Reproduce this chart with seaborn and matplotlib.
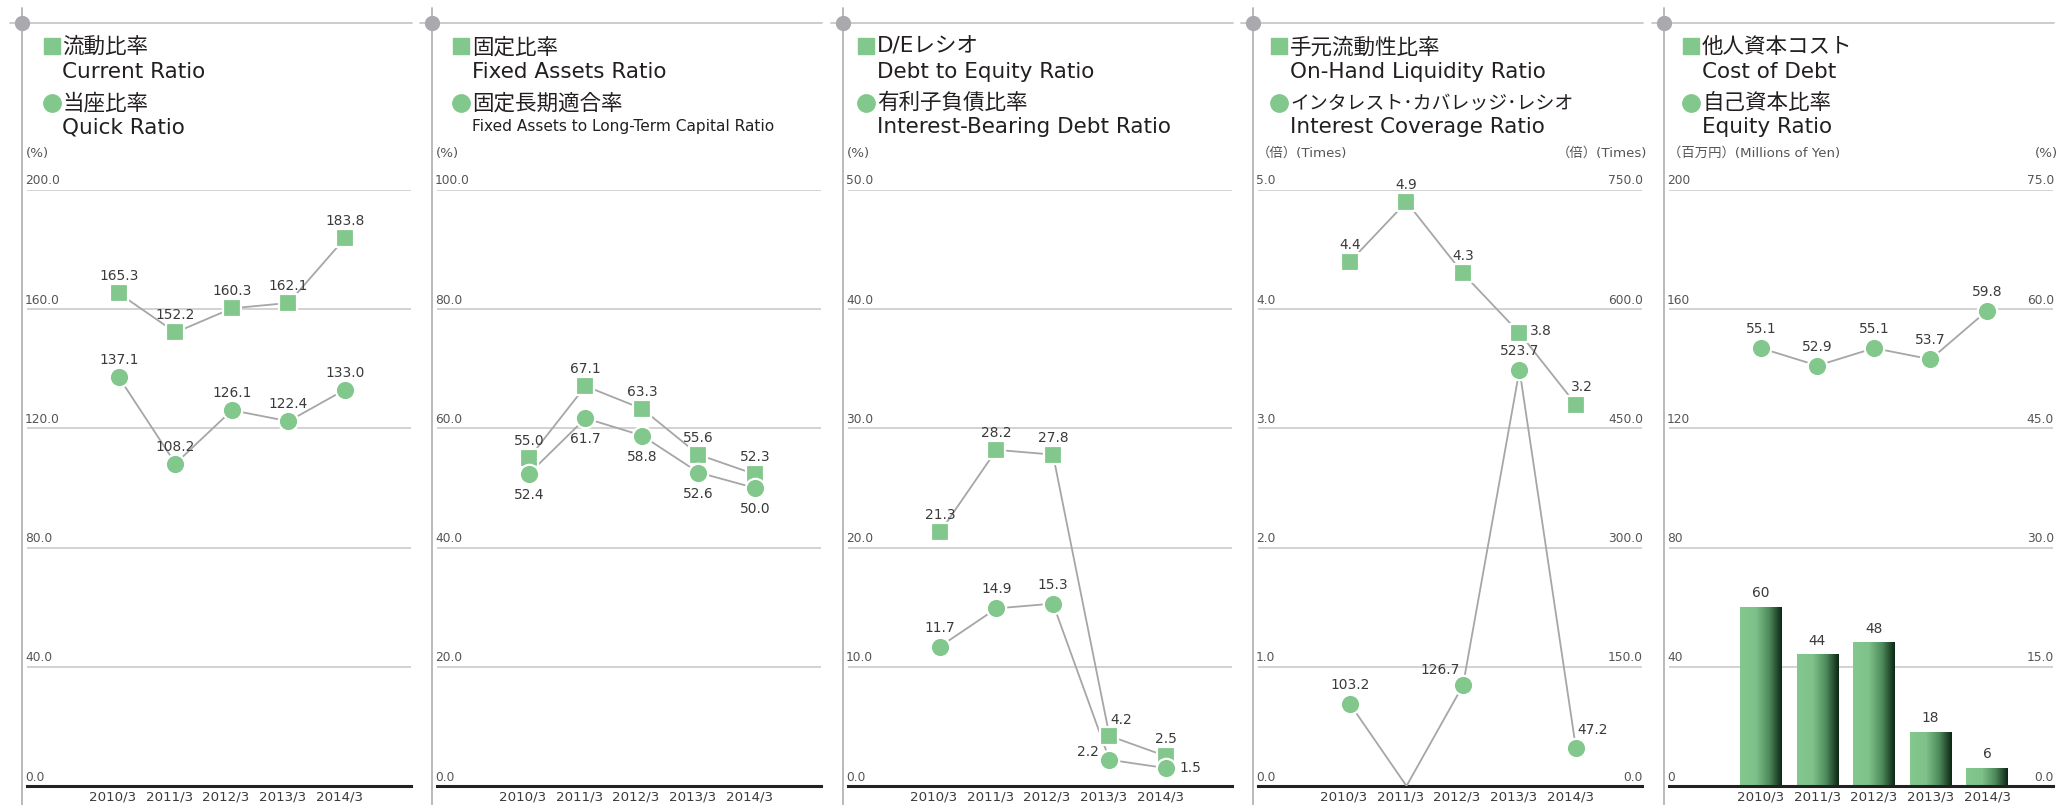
import numpy as np
import pandas as pd
import matplotlib
matplotlib.use("Agg")
import matplotlib.pyplot as plt
import matplotlib.transforms as mtrans
from matplotlib.lines import Line2D
from matplotlib.colors import LinearSegmentedColormap
import seaborn as sns

# ---------------- data ----------------
years = ["2010/3", "2011/3", "2012/3", "2013/3", "2014/3"]

current_ratio = [165.3, 152.2, 160.3, 162.1, 183.8]
quick_ratio = [137.1, 108.2, 126.1, 122.4, 133.0]

fixed_assets_ratio = [55.0, 67.1, 63.3, 55.6, 52.3]
fixed_lt_capital_ratio = [52.4, 61.7, 58.8, 52.6, 50.0]

de_ratio = [21.3, 28.2, 27.8, 4.2, 2.5]
ib_debt_ratio = [11.7, 14.9, 15.3, 2.2, 1.5]

liquidity_ratio = [4.4, 4.9, 4.3, 3.8, 3.2]
interest_coverage = [103.2, 0.0, 126.7, 523.7, 47.2]
interest_coverage_shown = [True, False, True, True, True]

cost_of_debt = [60, 44, 48, 18, 6]
equity_ratio = [55.1, 52.9, 55.1, 53.7, 59.8]

p1_ticks = [0, 40, 80, 120, 160, 200]
p2_ticks = [0, 20, 40, 60, 80, 100]
p3_ticks = [0, 10, 20, 30, 40, 50]
p4_ticks_left = [0, 1, 2, 3, 4, 5]
p4_ticks_right = [0, 150, 300, 450, 600, 750]
p5_ticks_left = [0, 40, 80, 120, 160, 200]
p5_ticks_right = [0, 15, 30, 45, 60, 75]

titles = [
    ["流動比率", "Current Ratio", "当座比率", "Quick Ratio"],
    ["固定比率", "Fixed Assets Ratio", "固定長期適合率", "Fixed Assets to Long-Term Capital Ratio"],
    ["D/Eレシオ", "Debt to Equity Ratio", "有利子負債比率", "Interest-Bearing Debt Ratio"],
    ["手元流動性比率", "On-Hand Liquidity Ratio", "インタレスト･カバレッジ･レシオ", "Interest Coverage Ratio"],
    ["他人資本コスト", "Cost of Debt", "自己資本比率", "Equity Ratio"],
]
unit_left = ["(%)", "(%)", "(%)", "（倍）(Times)", "（百万円）(Millions of Yen)"]
unit_right = [None, None, None, "（倍）(Times)", "(%)"]

# ---------------- style ----------------
sns.set_theme(style="white")
FONT = ["DejaVu Sans", "Noto Sans CJK JP"]
plt.rcParams["font.family"] = FONT

GREEN = "#82c78c"
LINE = "#a6a6a6"
GRID = "#cfcfcf"
TXT = "#231f20"
NUM = "#3a3a3a"
TICK = "#555555"

W, H = 2061, 805
fig = plt.figure(figsize=(W / 100, H / 100), dpi=100)
fig.patch.set_facecolor("white")


def fx(x):
    return x / W


def fy(y):
    return 1 - y / H


lefts = [22, 432, 843, 1253, 1664]
sq_off = [29.5, 29, 23, 26, 27]
AX_TOP, AX_BOT = 190, 786
x = np.arange(len(years))
XLIM = (-1.628, 5.168)
TITLE_FS = 15.5
NUM_FS = 9.9
TICK_FS = 8.8
YEAR_FS = 9.6
UNIT_FS = 9.6
# per-panel font sizes of the 3rd and 4th title lines
line3_fs = [15.5, 15.5, 15.5, 13.6, 15.5]
line4_fs = [15.5, 11.1, 15.5, 15.5, 15.5]


def frame(L, i):
    fig.add_artist(Line2D([fx(L), fx(L)], [fy(8), fy(805)], color="#b4b4b4", lw=1.3,
                          transform=fig.transFigure, zorder=1))
    fig.add_artist(Line2D([fx(L - 12), fx(L + 390)], [fy(23), fy(23)], color="#c8c8c8", lw=1.3,
                          transform=fig.transFigure, zorder=1))
    fig.add_artist(Line2D([fx(L)], [fy(23)], marker="o", ms=10, color="#a9a9ae", lw=0,
                          transform=fig.transFigure, zorder=2))
    sx = L + sq_off[i]
    fig.add_artist(Line2D([fx(sx)], [fy(46.5)], marker="s", ms=12, color=GREEN, lw=0,
                          transform=fig.transFigure))
    fig.add_artist(Line2D([fx(sx)], [fy(103)], marker="o", ms=12.5, color=GREEN, lw=0,
                          transform=fig.transFigure))
    tx = sx + 11
    t = titles[i]
    fig.text(fx(tx), fy(47), t[0], fontsize=TITLE_FS, color=TXT, va="center", ha="left")
    fig.text(fx(tx), fy(72), t[1], fontsize=TITLE_FS, color=TXT, va="center", ha="left")
    fig.text(fx(tx), fy(103), t[2], fontsize=line3_fs[i], color=TXT, va="center", ha="left")
    fig.text(fx(tx), fy(127), t[3], fontsize=line4_fs[i], color=TXT, va="center", ha="left")
    fig.text(fx(L + 4), fy(153), unit_left[i], fontsize=UNIT_FS, color=TICK, va="center", ha="left")
    if unit_right[i]:
        fig.text(fx(L + 394), fy(153), unit_right[i], fontsize=UNIT_FS, color=TICK,
                 va="center", ha="right")


def make_ax(L, ticks, fmt, year_shift):
    ax = fig.add_axes([fx(L + 5), fy(AX_BOT), 384 / W, (AX_BOT - AX_TOP) / H])
    ax.set_facecolor("none")
    ax.set_xlim(*XLIM)
    ax.set_ylim(ticks[0], ticks[-1])
    ax.set_yticks(ticks)
    ax.yaxis.grid(True, color=GRID, lw=1.3)
    ax.set_axisbelow(True)
    for s in ["top", "left", "right"]:
        ax.spines[s].set_visible(False)
    ax.spines["bottom"].set_color("#222222")
    ax.spines["bottom"].set_linewidth(2.2)
    ax.spines["bottom"].set_zorder(5)
    ax.tick_params(axis="y", length=0, labelleft=False)
    ax.set_xticks(x)
    ax.set_xticklabels(years, fontsize=YEAR_FS, color=NUM)
    ax.tick_params(axis="x", length=0, pad=3)
    off = mtrans.ScaledTranslation(year_shift / 100, 0, fig.dpi_scale_trans)
    for lab in ax.get_xticklabels():
        lab.set_transform(lab.get_transform() + off)
    for t in ticks:
        ax.annotate(fmt(t), xy=(0, t), xycoords=("axes fraction", "data"),
                    xytext=(-2, 9), textcoords="offset pixels", ha="left", va="center",
                    fontsize=TICK_FS, color=TICK, annotation_clip=False)
    ax.set_xlabel("")
    ax.set_ylabel("")
    return ax


def right_labels(ax, pos_ticks, label_ticks, fmt):
    for p, t in zip(pos_ticks, label_ticks):
        ax.annotate(fmt(t), xy=(1, p), xycoords=("axes fraction", "data"),
                    xytext=(1, 9), textcoords="offset pixels", ha="right", va="center",
                    fontsize=TICK_FS, color=TICK, annotation_clip=False)


def twin(ax, ticks):
    ax2 = ax.twinx()
    ax2.set_ylim(ticks[0], ticks[-1])
    ax2.set_xlim(*XLIM)
    ax2.axis("off")
    return ax2


def series(ax, vals, marker, offsets, shown=None):
    sns.lineplot(x=x, y=vals, ax=ax, color=LINE, lw=1.3, sort=False, legend=False, zorder=2)
    if shown is None:
        shown = [True] * len(vals)
    xs = [xi for xi, s in zip(x, shown) if s]
    vs = [v for v, s in zip(vals, shown) if s]
    size = 150 if marker == "s" else 195
    sns.scatterplot(x=xs, y=vs, ax=ax, marker=marker, s=size, color=GREEN,
                    edgecolor="white", linewidth=1.6, legend=False, zorder=3)
    for xi, v, s, (dx, dy) in zip(x, vals, shown, offsets):
        if not s:
            continue
        ax.annotate(f"{v:.1f}", xy=(xi, v), xytext=(dx, dy), textcoords="offset pixels",
                    ha="center", va="center", fontsize=NUM_FS, color=NUM, zorder=6,
                    annotation_clip=False)


f1 = lambda t: f"{t:.1f}"
f0 = lambda t: f"{t:d}"
UP = [(0, 17)] * 5
DOWN = [(0, -21)] * 5

# Panel 1
frame(lefts[0], 0)
ax = make_ax(lefts[0], p1_ticks, f1, -6)
series(ax, current_ratio, "s", UP)
series(ax, quick_ratio, "o", UP)

# Panel 2
frame(lefts[1], 1)
ax = make_ax(lefts[1], p2_ticks, f1, -6)
series(ax, fixed_assets_ratio, "s", UP)
series(ax, fixed_lt_capital_ratio, "o", DOWN)

# Panel 3
frame(lefts[2], 2)
ax = make_ax(lefts[2], p3_ticks, f1, -6)
series(ax, de_ratio, "s", [(0, 17), (0, 17), (0, 17), (12, 16), (0, 17)])
series(ax, ib_debt_ratio, "o", [(0, 19), (0, 19), (0, 19), (-22, 8), (24, 0)])

# Panel 4
frame(lefts[3], 3)
ax = make_ax(lefts[3], p4_ticks_left, f1, -6)
right_labels(ax, p4_ticks_left, p4_ticks_right, f1)
series(ax, liquidity_ratio, "s", [(0, 17), (0, 17), (0, 17), (21, 2), (6, 18)])
ax2 = twin(ax, p4_ticks_right)
series(ax2, interest_coverage, "o", [(0, 19), (0, 19), (-23, 15), (0, 19), (17, 18)],
       shown=interest_coverage_shown)

# Panel 5
frame(lefts[4], 4)
ax = make_ax(lefts[4], p5_ticks_left, f0, 0)
right_labels(ax, p5_ticks_left, p5_ticks_right, f1)
df5 = pd.DataFrame({"year": years, "cost": cost_of_debt})
sns.barplot(data=df5, x="year", y="cost", ax=ax, width=0.74, color=GREEN, saturation=1,
            zorder=2)
cmap = LinearSegmentedColormap.from_list(
    "bar", [(0, "#84c88e"), (0.38, "#7fc189"), (0.7, "#4d8a5b"), (1, "#0c2514")])
grad = np.linspace(0, 1, 256).reshape(1, -1)
for p in list(ax.patches):
    x0, y0 = p.get_x(), p.get_y()
    w, h = p.get_width(), p.get_height()
    ax.imshow(grad, extent=[x0, x0 + w, y0, y0 + h], aspect="auto", cmap=cmap,
              zorder=2.5, interpolation="bilinear")
    p.set_facecolor("none")
    p.set_edgecolor("none")
for xi, v in zip(x, cost_of_debt):
    ax.annotate(f"{v}", xy=(xi, v), xytext=(0, 14), textcoords="offset pixels",
                ha="center", va="center", fontsize=NUM_FS, color=NUM, annotation_clip=False)
ax.set_xlim(*XLIM)
ax.set_ylim(p5_ticks_left[0], p5_ticks_left[-1])
ax.set_xlabel("")
ax.set_ylabel("")
ax2 = twin(ax, p5_ticks_right)
series(ax2, equity_ratio, "o", [(0, 19)] * 5)

fig.savefig("out.png", dpi=100, facecolor="white")
